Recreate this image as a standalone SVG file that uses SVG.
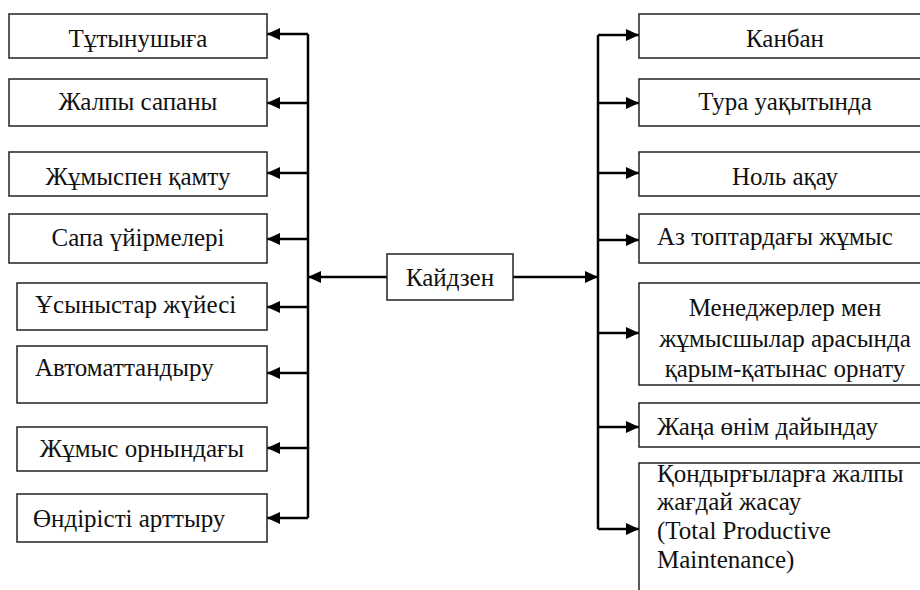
<svg xmlns="http://www.w3.org/2000/svg" width="920" height="590" viewBox="0 0 920 590">
<style>
.box{fill:#fff;stroke:#222;stroke-width:1.5}
.t{font-family:"Liberation Serif","Times New Roman",serif;font-size:25px;fill:#111}
.c{text-anchor:middle}
.ln{fill:none;stroke:#000;stroke-width:2.5}
</style>
<defs>
<marker id="ah" markerWidth="13" markerHeight="12" refX="13" refY="6" orient="auto" markerUnits="userSpaceOnUse"><path d="M0,0 L13,6 L0,12 z" fill="#000"/></marker>
</defs>
<rect width="920" height="590" fill="#fff"/>
<g id="connectors">
<path class="ln" d="M308,34 V518"/>
<path class="ln" d="M308,34 H267" marker-end="url(#ah)"/>
<path class="ln" d="M308,103 H267" marker-end="url(#ah)"/>
<path class="ln" d="M308,173 H267" marker-end="url(#ah)"/>
<path class="ln" d="M308,239 H267" marker-end="url(#ah)"/>
<path class="ln" d="M308,307 H267" marker-end="url(#ah)"/>
<path class="ln" d="M308,373 H267" marker-end="url(#ah)"/>
<path class="ln" d="M308,448 H267" marker-end="url(#ah)"/>
<path class="ln" d="M308,518 H267" marker-end="url(#ah)"/>
<path class="ln" d="M387,277 H308" marker-end="url(#ah)"/>
<path class="ln" d="M513,277 H598" marker-end="url(#ah)"/>
<path class="ln" d="M598,35 V529"/>
<path class="ln" d="M598,35 H639" marker-end="url(#ah)"/>
<path class="ln" d="M598,103 H639" marker-end="url(#ah)"/>
<path class="ln" d="M598,173 H639" marker-end="url(#ah)"/>
<path class="ln" d="M598,240 H639" marker-end="url(#ah)"/>
<path class="ln" d="M598,333 H639" marker-end="url(#ah)"/>
<path class="ln" d="M598,427 H639" marker-end="url(#ah)"/>
<path class="ln" d="M598,529 H639" marker-end="url(#ah)"/>
</g>
<g id="center"><rect class="box" x="387" y="254" width="126" height="46"/><text class="t c" x="450" y="286">Кайдзен</text></g>
<g id="l1"><rect class="box" x="9" y="14" width="258" height="44"/><text class="t c" x="138" y="47">Тұтынушыға</text></g>
<g id="l2"><rect class="box" x="9" y="79" width="258" height="47"/><text class="t c" x="138" y="110">Жалпы сапаны</text></g>
<g id="l3"><rect class="box" x="9" y="152" width="258" height="44"/><text class="t c" x="138" y="185">Жұмыспен қамту</text></g>
<g id="l4"><rect class="box" x="9" y="214" width="258" height="49"/><text class="t c" x="138" y="246">Сапа үйірмелері</text></g>
<g id="l5"><rect class="box" x="17" y="283" width="250" height="47"/><text class="t" x="35" y="313">Ұсыныстар жүйесі</text></g>
<g id="l6"><rect class="box" x="17" y="346" width="250" height="57"/><text class="t" x="35" y="376">Автоматтандыру</text></g>
<g id="l7"><rect class="box" x="17" y="427" width="250" height="44"/><text class="t c" x="142" y="457">Жұмыс орнындағы</text></g>
<g id="l8"><rect class="box" x="17" y="494" width="250" height="48"/><text class="t" x="33" y="527">Өндірісті арттыру</text></g>
<g id="r1"><rect class="box" x="639" y="14" width="300" height="44"/><text class="t c" x="785" y="47">Канбан</text></g>
<g id="r2"><rect class="box" x="639" y="79" width="300" height="47"/><text class="t c" x="785" y="110">Тура уақытында</text></g>
<g id="r3"><rect class="box" x="639" y="152" width="300" height="44"/><text class="t c" x="785" y="185">Ноль ақау</text></g>
<g id="r4"><rect class="box" x="639" y="214" width="300" height="49"/><text class="t" x="657" y="245">Аз топтардағы жұмыс</text></g>
<g id="r5"><rect class="box" x="639" y="283" width="300" height="102"/><text class="t c" x="785" y="316">Менеджерлер мен</text><text class="t c" x="785" y="347">жұмысшылар арасында</text><text class="t c" x="785" y="377">қарым-қатынас орнату</text></g>
<g id="r6"><rect class="box" x="639" y="403" width="300" height="44"/><text class="t" x="657" y="435">Жаңа өнім дайындау</text></g>
<g id="r7"><rect class="box" x="639" y="463" width="300" height="140"/><text class="t" x="657" y="482">Қондырғыларға жалпы</text><text class="t" x="657" y="510">жағдай жасау</text><text class="t" x="657" y="539">(Total Productive</text><text class="t" x="657" y="568">Maintenance)</text></g>
</svg>
